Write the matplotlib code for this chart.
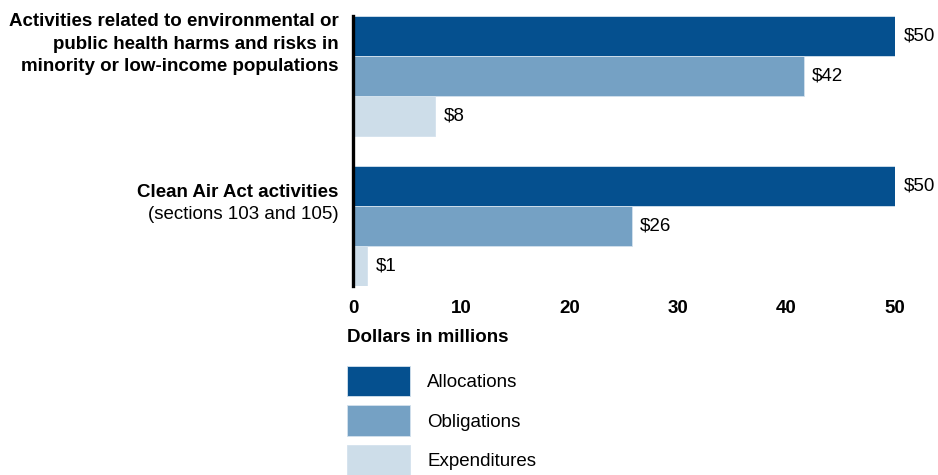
import matplotlib
matplotlib.use("Agg")
import matplotlib.pyplot as plt
from matplotlib.patches import Patch

plt.rcParams['font.family'] = ['Liberation Sans', 'DejaVu Sans']

# data (dollars in millions)
categories = ["Activities related to environmental or\npublic health harms and risks in\nminority or low-income populations",
              "Clean Air Act activities"]
series = ["Allocations", "Obligations", "Expenditures"]
allocations = [50, 50]
obligations = [41.6, 25.7]
expenditures = [7.6, 1.3]
value_labels = [["$50", "$42", "$8"], ["$50", "$26", "$1"]]
x_ticks = [0, 10, 20, 30, 40, 50]

colors = ["#05508f", "#75a1c4", "#cddde9"]
fs = 13.5

fig = plt.figure(figsize=(9.38, 4.75), dpi=100)
ax = fig.add_axes([353 / 938, 1 - 286 / 475, 542 / 938, 270 / 475])

group_gap = 3.725
values = [allocations, obligations, expenditures]
for g in range(len(categories)):
    for s in range(len(series)):
        y = g * group_gap + s + 0.5
        v = values[s][g]
        ax.barh(y, v, height=1.0, color=colors[s], edgecolor="#d4e2ee", linewidth=0.6, zorder=2)
        ax.annotate(value_labels[g][s], xy=(v, y), xytext=(6, 0), textcoords="offset points",
                    va="center", ha="left", fontsize=fs)

ax.set_xlim(0, 50)
ax.set_ylim(group_gap + 3, 0)
ax.set_xticks(x_ticks)
ax.set_xticklabels([str(t) for t in x_ticks], fontweight="bold", fontsize=fs)
ax.tick_params(axis="x", length=0, pad=10)
ax.set_yticks([])
for side in ["top", "right", "bottom"]:
    ax.spines[side].set_visible(False)
ax.spines["left"].set_linewidth(2.4)
ax.spines["left"].set_color("black")
ax.spines["left"].set_zorder(3)

# category labels
tr = ax.get_yaxis_transform()
ax.text(-0.027, 0.7, categories[0], transform=tr, ha="right", va="center",
        multialignment="right", fontsize=fs, fontweight="bold", linespacing=1.4)
ax.text(-0.027, 4.4, categories[1], transform=tr, ha="right", va="center",
        fontsize=fs, fontweight="bold")
ax.text(-0.027, 4.95, "(sections 103 and 105)", transform=tr, ha="right", va="center",
        fontsize=fs)

fig.text(347 / 938, 1 - 337 / 475, "Dollars in millions", fontsize=fs, fontweight="bold",
         ha="left", va="center")

handles = [Patch(facecolor=c, edgecolor="#d4e2ee", linewidth=0.6) for c in colors]
fig.legend(handles, series, loc="upper left", bbox_to_anchor=(347 / 938, 1 - 366 / 475),
           frameon=False, fontsize=fs, handlelength=3.38, handleheight=2.12,
           labelspacing=0.48, handletextpad=0.9, borderpad=0, borderaxespad=0)

fig.savefig("out.png", dpi=100)
